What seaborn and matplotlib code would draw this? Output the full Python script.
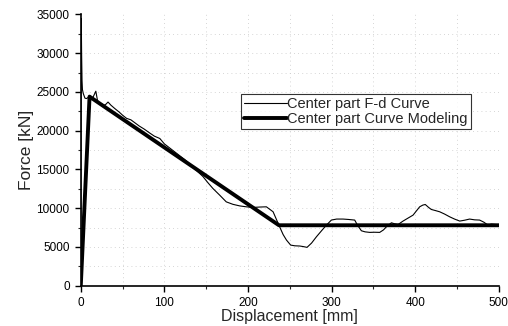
import matplotlib
matplotlib.use("Agg")
import matplotlib.pyplot as plt
import seaborn as sns
import pandas as pd
from matplotlib.ticker import MultipleLocator

# F-d measured curve (displacement mm, force kN)
fd_disp = [0, 0.3, 0.6, 1.0, 1.5, 2.0, 3.0, 5.0, 6.8, 9, 12, 15, 18, 20, 22.7, 26, 29, 32.6, 36, 40.7,
           46, 50, 54.7, 60, 65, 70, 76, 82.5, 88, 94.5, 100, 106, 112, 118, 124, 130, 138,
           146, 152, 158, 166, 174, 182, 190, 198, 206, 214, 222, 230, 237, 242, 246, 251,
           256, 262, 266, 270.6, 276, 281.8, 288, 293.8, 299.7, 306, 313.6, 320, 327.6, 331,
           335.6, 340, 345.6, 351, 357.5, 362, 365.5, 371.5, 375, 379.5, 385.4, 391, 397.4,
           401, 405.3, 409, 412, 416, 419.2, 424, 429.2, 435, 441.2, 447, 453.2, 459, 465,
           471, 477, 482, 487, 491, 496, 498]
fd_force = [0, 20000, 34500, 30000, 26500, 25300, 24800, 24200, 24150, 24300, 24000, 24400, 25100, 23900,
            23500, 23400, 23300, 23700, 23300, 22860, 22400, 22000, 21600, 21400, 21000, 20600,
            20200, 19700, 19300, 19000, 18300, 17800, 17300, 16800, 16300, 15700, 14900,
            14100, 13300, 12550, 11700, 10820, 10500, 10300, 10180, 10100, 10150, 10180, 9540,
            7800, 6600, 5890, 5240, 5150, 5120, 5050, 4950, 5500, 6310, 7100, 7820, 8470, 8600,
            8600, 8550, 8470, 7800, 7090, 6950, 6880, 6900, 6880, 7200, 7600, 8120, 8000, 7900,
            8340, 8700, 9110, 9600, 10180, 10400, 10480, 10100, 9840, 9700, 9540, 9250, 8890,
            8600, 8340, 8450, 8600, 8500, 8470, 8200, 7820, 7950, 7900, 7850]

# Bilinear model curve
model_disp = [0, 10.5, 237, 500]
model_force = [0, 24400, 7800, 7800]

df_fd = pd.DataFrame({"d": fd_disp, "f": fd_force})
df_m = pd.DataFrame({"d": model_disp, "f": model_force})

sns.set_style("ticks")
plt.rcParams["font.family"] = ["Liberation Sans", "DejaVu Sans"]

fig = plt.figure(figsize=(5.08, 3.26), dpi=100)
ax = fig.add_axes([0.159, 0.1236, 0.823, 0.832])

# faint dotted grid
for gx in range(50, 500, 50):
    ax.axvline(gx, color="#c8c8c8", lw=0.6, ls=(0, (1, 4)), zorder=0)
for gy in range(2500, 35000, 2500):
    ax.axhline(gy, color="#c8c8c8", lw=0.6, ls=(0, (1, 4)), zorder=0)

sns.lineplot(data=df_fd, x="d", y="f", ax=ax, color="black", lw=0.8,
             label="Center part F-d Curve", sort=False, estimator=None)
sns.lineplot(data=df_m, x="d", y="f", ax=ax, color="black", lw=2.8,
             label="Center part Curve Modeling", sort=False, estimator=None)

ax.set_xlim(0, 500)
ax.set_ylim(0, 35000)
ax.xaxis.set_major_locator(MultipleLocator(100))
ax.xaxis.set_minor_locator(MultipleLocator(50))
ax.yaxis.set_major_locator(MultipleLocator(5000))
ax.yaxis.set_minor_locator(MultipleLocator(2500))
ax.tick_params(axis="both", which="major", direction="out", length=4, width=1,
               labelsize=8.5, colors="black", pad=4)
ax.tick_params(axis="both", which="minor", direction="out", length=2, width=0.8)

for s in ["top", "right"]:
    ax.spines[s].set_visible(False)
for s in ["left", "bottom"]:
    ax.spines[s].set_color("black")
    ax.spines[s].set_linewidth(1.2)

ax.set_xlabel("Displacement [mm]", fontsize=11.5, labelpad=0)
ax.set_ylabel("Force [kN]", fontsize=12.5, labelpad=2)

leg = ax.legend(loc="upper right", bbox_to_anchor=(0.933, 0.706), frameon=True,
                fancybox=False, fontsize=10.5, handlelength=2.9, handletextpad=0.05,
                borderpad=0.2, labelspacing=0.05, borderaxespad=0)
leg.get_frame().set_edgecolor("black")
leg.get_frame().set_linewidth(0.8)

fig.savefig("out.png", dpi=100)
